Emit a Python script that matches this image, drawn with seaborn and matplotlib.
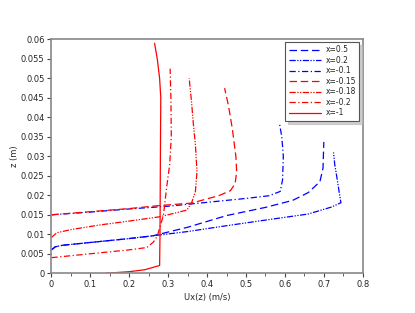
import numpy as np
import pandas as pd
import matplotlib
matplotlib.use("Agg")
import matplotlib.pyplot as plt
import seaborn as sns

# profiles: (Ux, z) pairs for each section
labels = ['x=0.5', 'x=0.2', 'x=-0.1', 'x=-0.15', 'x=-0.18', 'x=-0.2', 'x=-1']

ux_05 = [0, 0.01, 0.03, 0.1, 0.2, 0.26, 0.35, 0.45, 0.55, 0.62, 0.66, 0.69, 0.698, 0.7]
z_05 = [0.006, 0.0068, 0.0072, 0.0079, 0.0089, 0.0096, 0.0118, 0.0148, 0.0169, 0.0187, 0.0207, 0.0235, 0.027, 0.0337]

ux_02 = [0, 0.01, 0.03, 0.1, 0.2, 0.26, 0.35, 0.45, 0.54, 0.66, 0.72, 0.744, 0.74, 0.733, 0.728, 0.725]
z_02 = [0.006, 0.0068, 0.0072, 0.0079, 0.0089, 0.0096, 0.0107, 0.0122, 0.0135, 0.0152, 0.017, 0.0181, 0.0205, 0.025, 0.028, 0.031]

ux_m01 = [0, 0.1, 0.2, 0.3, 0.4, 0.5, 0.56, 0.588, 0.594, 0.596, 0.592, 0.586]
z_m01 = [0.015, 0.0157, 0.0165, 0.0172, 0.0182, 0.0192, 0.0199, 0.021, 0.024, 0.03, 0.035, 0.0385]

ux_m015 = [0, 0.1, 0.2, 0.28, 0.36, 0.43, 0.46, 0.472, 0.476, 0.474, 0.465, 0.455, 0.445]
z_m015 = [0.015, 0.0158, 0.0166, 0.0174, 0.018, 0.0199, 0.0212, 0.023, 0.026, 0.03, 0.037, 0.043, 0.0475]

ux_m018 = [0, 0.014, 0.05, 0.125, 0.2, 0.279, 0.348, 0.36, 0.37, 0.374, 0.37, 0.365, 0.36, 0.354]
z_m018 = [0.0092, 0.0104, 0.0112, 0.0124, 0.0134, 0.0145, 0.0162, 0.018, 0.021, 0.026, 0.033, 0.038, 0.044, 0.05]

ux_m02 = [0, 0.1, 0.2, 0.245, 0.262, 0.272, 0.288, 0.296, 0.304, 0.308, 0.307, 0.305]
z_m02 = [0.004, 0.005, 0.006, 0.0066, 0.008, 0.0095, 0.015, 0.022, 0.028, 0.035, 0.045, 0.0525]

ux_m1 = [0.14, 0.2, 0.24, 0.278, 0.279, 0.28, 0.281, 0.278, 0.272, 0.265]
z_m1 = [0, 0.0004, 0.0009, 0.002, 0.01, 0.03, 0.045, 0.05, 0.055, 0.059]

series = [(ux_05, z_05), (ux_02, z_02), (ux_m01, z_m01), (ux_m015, z_m015),
          (ux_m018, z_m018), (ux_m02, z_m02), (ux_m1, z_m1)]

rows = []
for lab, (u, z) in zip(labels, series):
    for a, b in zip(u, z):
        rows.append({'case': lab, 'ux': a, 'z': b})
df = pd.DataFrame(rows)

palette = {'x=0.5': 'blue', 'x=0.2': 'blue', 'x=-0.1': 'blue',
           'x=-0.15': 'red', 'x=-0.18': 'red', 'x=-0.2': 'red', 'x=-1': 'red'}
dashes = {'x=0.5': (6, 3), 'x=0.2': (5, 1.2, 1, 1.2, 1, 1.2), 'x=-0.1': (5, 2, 1, 2),
          'x=-0.15': (6, 3), 'x=-0.18': (5, 1.2, 1, 1.2, 1, 1.2), 'x=-0.2': (5, 2, 1, 2),
          'x=-1': ''}

sns.set_style("white")
plt.rcParams['font.family'] = ['DejaVu Sans']

fig = plt.figure(figsize=(4.15, 3.13), dpi=100)
ax = fig.add_axes([0.124, 0.127, 0.75, 0.747])

sns.lineplot(data=df, x='ux', y='z', hue='case', style='case', hue_order=labels,
             style_order=labels, palette=palette, dashes=dashes, sort=False,
             estimator=None, units='case', linewidth=0.9, ax=ax)

ax.set_xlim(0, 0.8)
ax.set_ylim(0, 0.06)
ax.set_xticks(np.arange(0, 0.81, 0.1))
ax.set_xticklabels(['0', '0.1', '0.2', '0.3', '0.4', '0.5', '0.6', '0.7', '0.8'])
ax.set_xticks(np.arange(0.05, 0.8, 0.1), minor=True)
yt = np.arange(0, 0.0601, 0.005)
ax.set_yticks(yt)
ax.set_yticklabels(['0'] + ['%g' % v for v in yt[1:]])
ax.tick_params(axis='both', which='major', labelsize=6, length=3, width=0.8,
               direction='out', color='#444444', pad=2, left=True, bottom=True)
ax.tick_params(axis='x', which='minor', length=2, width=0.6, direction='out',
               color='#444444', bottom=True)
ax.set_xlabel('Ux(z) (m/s)', fontsize=6, labelpad=3)
ax.set_ylabel('z (m)', fontsize=6, labelpad=1)
for s in ax.spines.values():
    s.set_color('#888888')
    s.set_linewidth(1.2)

leg = ax.legend(loc='upper right', fontsize=5.5, frameon=True, fancybox=False,
                shadow={'color': '#bbbbbb', 'alpha': 0.7}, edgecolor='#555555',
                handlelength=4.2, handletextpad=0.6, borderpad=0.45,
                labelspacing=0.2, borderaxespad=0, bbox_to_anchor=(0.989, 0.99))
leg.get_frame().set_linewidth(0.8)

fig.savefig('out.png', dpi=100)
